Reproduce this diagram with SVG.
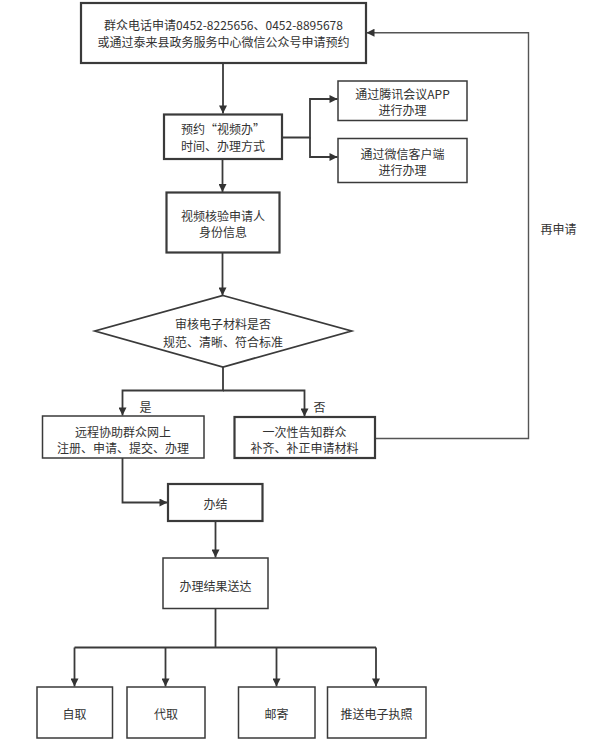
<svg xmlns="http://www.w3.org/2000/svg" width="594" height="750" viewBox="0 0 594 750">
<defs>
<style>
.bx{fill:#fff;stroke:#3a3a3a;stroke-width:1.5}
.hv{stroke-width:2.2}
.t{font-family:"Noto Sans CJK SC","Noto Sans",sans-serif;font-size:12px;fill:#333;text-anchor:middle;dominant-baseline:central}
.ln{fill:none;stroke:#3a3a3a;stroke-width:1.8}
.fb{fill:none;stroke:#555;stroke-width:1.4}
</style>
<marker id="ah" viewBox="0 0 10 10" refX="10" refY="5" markerWidth="9" markerHeight="8" markerUnits="userSpaceOnUse" orient="auto">
<path d="M0,0 L10,5 L0,10 Z" fill="#333"/>
</marker>
</defs>
<rect width="594" height="750" fill="#fff"/>
<g id="connectors">
<path class="ln" d="M223,63 V113.5" marker-end="url(#ah)"/>
<path class="ln" d="M282,137.5 H310 V99 H337.5" marker-end="url(#ah)"/>
<path class="ln" d="M310,137.5 V157 H337.5" marker-end="url(#ah)"/>
<path class="ln" d="M222.5,159 V192" marker-end="url(#ah)"/>
<path class="ln" d="M222.5,252.5 V295.5" marker-end="url(#ah)"/>
<path class="ln" d="M223,367 V390.5 H122.5 V415.5" marker-end="url(#ah)"/>
<path class="ln" d="M223,390.5 H304.5 V416.5" marker-end="url(#ah)"/>
<path class="fb" d="M375,438.5 H528.5 V32.7 H366.5" marker-end="url(#ah)"/>
<path class="ln" d="M122.5,458 V502.5 H167.5" marker-end="url(#ah)"/>
<path class="ln" d="M215.5,521 V557.5" marker-end="url(#ah)"/>
<path class="ln" d="M215.5,608.5 V647.5"/>
<path class="ln" d="M74.5,647.5 H376"/>
<path class="ln" d="M74.5,647.5 V686.5" marker-end="url(#ah)"/>
<path class="ln" d="M165.5,647.5 V686.5" marker-end="url(#ah)"/>
<path class="ln" d="M276.5,647.5 V686.5" marker-end="url(#ah)"/>
<path class="ln" d="M376,647.5 V686.5" marker-end="url(#ah)"/>
<text class="t" x="145.5" y="406">是</text>
<text class="t" x="319.5" y="406">否</text>
<text class="t" x="558.5" y="228.5">再申请</text>
</g>
<g id="n-apply">
<rect class="bx hv" x="81" y="3" width="285" height="60"/>
<text class="t" x="223.5" y="24">群众电话申请0452-8225656、0452-8895678</text>
<text class="t" x="223.5" y="41">或通过泰来县政务服务中心微信公众号申请预约</text>
</g>
<g id="n-book">
<rect class="bx hv" x="164" y="114.5" width="118" height="44.5"/>
<text class="t" x="223" y="128.5">预约“视频办”</text>
<text class="t" x="223" y="145">时间、办理方式</text>
</g>
<g id="n-tencent">
<rect class="bx" x="338" y="81" width="129" height="39.5"/>
<text class="t" x="402.5" y="93.2">通过腾讯会议APP</text>
<text class="t" x="402.5" y="109.5">进行办理</text>
</g>
<g id="n-wechat">
<rect class="bx" x="338" y="138.5" width="129" height="44"/>
<text class="t" x="402.5" y="153.2">通过微信客户端</text>
<text class="t" x="402.5" y="169.5">进行办理</text>
</g>
<g id="n-verify">
<rect class="bx hv" x="166.5" y="192.5" width="113" height="60"/>
<text class="t" x="223" y="215.5">视频核验申请人</text>
<text class="t" x="223" y="231.5">身份信息</text>
</g>
<g id="n-check">
<polygon class="bx" points="223,295.5 351.5,331 223,367 95,331" style="stroke-width:1.8"/>
<text class="t" x="223" y="323">审核电子材料是否</text>
<text class="t" x="223" y="341">规范、清晰、符合标准</text>
</g>
<g id="n-remote">
<rect class="bx" x="42.5" y="416" width="161.5" height="42"/>
<text class="t" x="123" y="431">远程协助群众网上</text>
<text class="t" x="123" y="447.5">注册、申请、提交、办理</text>
</g>
<g id="n-notify">
<rect class="bx hv" x="234.5" y="417" width="140.5" height="41"/>
<text class="t" x="304.5" y="431">一次性告知群众</text>
<text class="t" x="304.5" y="447.5">补齐、补正申请材料</text>
</g>
<g id="n-done">
<rect class="bx hv" x="168" y="484" width="94.5" height="37"/>
<text class="t" x="215.5" y="503.5">办结</text>
</g>
<g id="n-deliver">
<rect class="bx" x="163" y="558" width="105" height="50.5"/>
<text class="t" x="215.5" y="585">办理结果送达</text>
</g>
<g id="n-self">
<rect class="bx" x="37" y="687" width="75.5" height="51"/>
<text class="t" x="74.5" y="713.5">自取</text>
</g>
<g id="n-proxy">
<rect class="bx" x="127" y="687" width="78" height="51"/>
<text class="t" x="166" y="713.5">代取</text>
</g>
<g id="n-mail">
<rect class="bx" x="238.5" y="687" width="76.5" height="51"/>
<text class="t" x="276.5" y="713.5">邮寄</text>
</g>
<g id="n-elicense">
<rect class="bx" x="327.5" y="687" width="98.5" height="51"/>
<text class="t" x="376.5" y="713.5">推送电子执照</text>
</g>
</svg>
